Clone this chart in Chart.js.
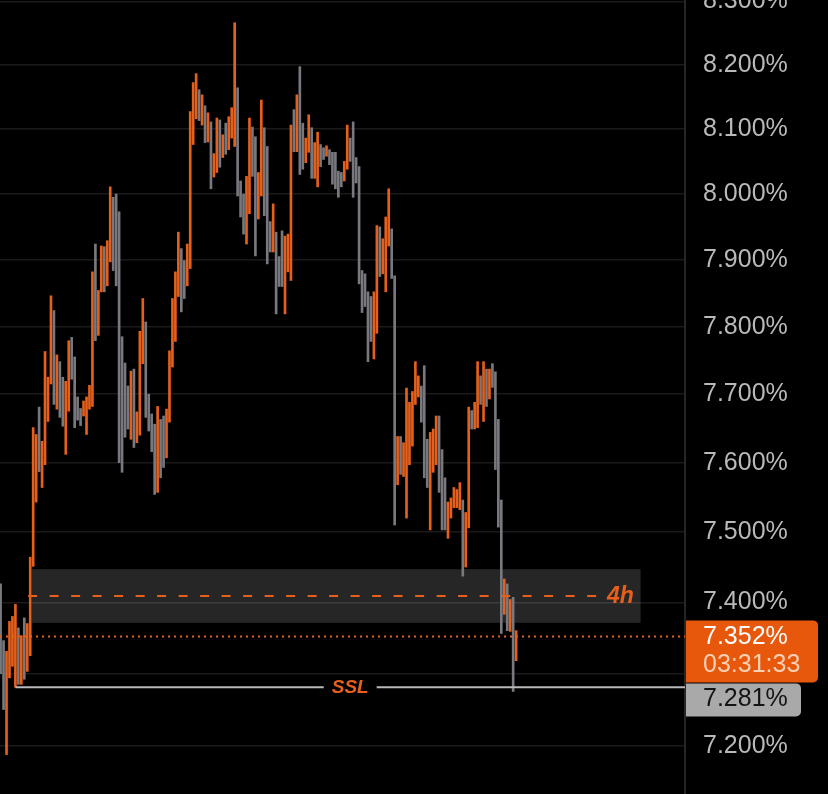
<!DOCTYPE html>
<html>
<head>
<meta charset="utf-8">
<script src="https://cdn.jsdelivr.net/npm/chart.js@4.4.1/dist/chart.umd.min.js"></script>
<style>
  html, body { margin: 0; padding: 0; background: #000; }
</style>
</head>
<body>
<canvas id="myChart" width="828" height="794"></canvas>
<script>
// Bar highs / lows in yield %, oldest first
const highs = [
  7.426, 7.346, 7.331, 7.373, 7.380, 7.397, 7.364, 7.353, 7.378, 7.370,
  7.464, 7.651, 7.641, 7.681, 7.631, 7.763, 7.725, 7.846, 7.824, 7.758,
  7.748, 7.725, 7.719, 7.779, 7.784, 7.755, 7.696, 7.679, 7.690, 7.696,
  7.713, 7.882, 7.924, 7.854, 7.921, 7.920, 7.929, 8.011, 7.995, 8.000,
  7.973, 7.785, 7.746, 7.712, 7.734, 7.737, 7.674, 7.793, 7.842, 7.807,
  7.700, 7.671, 7.656, 7.682, 7.663, 7.668, 7.678, 7.764, 7.842, 7.882,
  7.942, 7.917, 7.899, 7.924, 8.127, 8.172, 8.186, 8.161, 8.153, 8.136,
  8.125, 8.111, 8.062, 8.117, 8.114, 8.091, 8.109, 8.119, 8.133, 8.266,
  8.164, 8.020, 8.000, 8.027, 8.117, 8.103, 8.088, 8.033, 8.145, 8.102,
  8.073, 7.958, 7.985, 7.942, 7.905, 7.944, 7.936, 7.939, 8.106, 8.130,
  8.153, 8.197, 8.109, 8.086, 8.122, 8.102, 8.079, 8.095, 8.076, 8.071,
  8.074, 8.068, 8.064, 8.064, 8.035, 8.033, 8.050, 8.106, 8.086, 8.111,
  8.056, 8.042, 7.884, 7.879, 7.852, 7.845, 7.852, 7.952, 7.950, 7.932,
  7.965, 8.008, 7.947, 7.876, 7.638, 7.638, 7.629, 7.709, 7.688, 7.704,
  7.748, 7.727, 7.712, 7.742, 7.634, 7.644, 7.649, 7.668, 7.668, 7.619,
  7.578, 7.543, 7.549, 7.564, 7.561, 7.571, 7.546, 7.528, 7.681, 7.676,
  7.688, 7.748, 7.727, 7.748, 7.737, 7.737, 7.745, 7.733, 7.663, 7.546,
  7.433, 7.426, 7.404, 7.407, 7.360
];
const lows = [
  7.300, 7.250, 7.188, 7.294, 7.310, 7.281, 7.285, 7.285, 7.292, 7.303,
  7.325, 7.451, 7.543, 7.587, 7.564, 7.597, 7.660, 7.715, 7.685, 7.678,
  7.666, 7.653, 7.612, 7.675, 7.722, 7.651, 7.662, 7.654, 7.668, 7.641,
  7.678, 7.682, 7.779, 7.787, 7.852, 7.852, 7.861, 7.897, 7.884, 7.861,
  7.600, 7.586, 7.637, 7.649, 7.634, 7.622, 7.629, 7.640, 7.745, 7.666,
  7.646, 7.616, 7.554, 7.557, 7.578, 7.593, 7.607, 7.659, 7.740, 7.778,
  7.845, 7.822, 7.842, 7.861, 7.887, 8.076, 8.116, 8.113, 8.106, 8.079,
  8.080, 8.008, 8.026, 8.033, 8.041, 8.056, 8.061, 8.068, 8.086, 8.073,
  7.997, 7.965, 7.939, 7.924, 7.970, 8.027, 7.906, 7.962, 7.997, 7.967,
  7.894, 7.912, 7.912, 7.819, 7.860, 7.860, 7.819, 7.882, 7.869, 8.065,
  8.065, 8.030, 8.038, 8.048, 8.064, 8.024, 8.024, 8.011, 8.042, 8.053,
  8.058, 8.045, 8.015, 8.008, 7.995, 8.011, 8.020, 8.038, 8.050, 7.995,
  8.017, 7.864, 7.821, 7.830, 7.748, 7.778, 7.752, 7.790, 7.875, 7.879,
  7.852, 7.921, 7.872, 7.510, 7.568, 7.583, 7.580, 7.520, 7.597, 7.624,
  7.685, 7.696, 7.659, 7.578, 7.564, 7.503, 7.586, 7.597, 7.557, 7.503,
  7.503, 7.491, 7.520, 7.535, 7.535, 7.532, 7.437, 7.450, 7.506, 7.649,
  7.649, 7.651, 7.685, 7.660, 7.682, 7.693, 7.710, 7.590, 7.507, 7.356,
  7.383, 7.360, 7.359, 7.275, 7.318
];
// 1 = up bar, -1 = down bar
const dirs = [
  -1, -1, 1, 1, 1, 1, -1, 1, -1, 1,
  1, 1, 1, -1, 1, 1, 1, 1, -1, 1,
  -1, -1, 1, 1, -1, -1, -1, -1, 1, 1,
  1, 1, -1, 1, 1, -1, 1, 1, -1, -1,
  -1, -1, -1, -1, 1, -1, 1, 1, 1, -1,
  -1, -1, -1, 1, -1, -1, 1, 1, 1, 1,
  1, -1, -1, 1, 1, 1, 1, -1, 1, -1,
  1, -1, 1, 1, -1, 1, -1, 1, 1, 1,
  -1, -1, -1, 1, 1, -1, -1, 1, 1, -1,
  -1, -1, 1, -1, -1, -1, 1, 1, 1, -1,
  1, -1, -1, 1, 1, -1, 1, 1, -1, -1,
  1, -1, -1, -1, -1, -1, 1, 1, -1, -1,
  -1, -1, -1, -1, -1, -1, 1, 1, -1, 1,
  1, 1, -1, -1, 1, -1, 1, 1, 1, 1,
  1, 1, -1, -1, -1, 1, 1, 1, -1, -1,
  -1, 1, 1, 1, 1, 1, -1, 1, 1, -1,
  1, 1, -1, 1, -1, 1, -1, -1, -1, -1,
  1, -1, 1, -1, 1
];

const yTicks = [7.2, 7.3, 7.4, 7.5, 7.6, 7.7, 7.8, 7.9, 8.0, 8.1, 8.2, 8.3];
const yMin = 7.134, yMax = 8.302;

// zone, levels and price tags
const zoneTop = 7.447, zoneBottom = 7.371, zoneFrom = 10.6, zoneTo = 216;
const level4h = 7.409, level4hFrom = 9.3, level4hTo = 201.3, label4h = '4h';
const sslLevel = 7.281, sslFrom = 5, sslLabel = 'SSL';
const lastPrice = 7.352, countdown = '03:31:33';

const UP = '#e6601c';
const DOWN = '#78787f';
const FONT = "'Liberation Sans', Arial, sans-serif";

Chart.defaults.font.family = FONT;

const overlay = {
  id: 'overlay',
  beforeDraw(chart) {
    const { ctx, scales: { x, y } } = chart;
    ctx.save();
    ctx.fillStyle = '#000';
    ctx.fillRect(0, 0, chart.width, chart.height);
    const x0 = x.getPixelForValue(zoneFrom), x1 = x.getPixelForValue(zoneTo);
    const y0 = y.getPixelForValue(zoneTop), y1 = y.getPixelForValue(zoneBottom);
    ctx.fillStyle = '#262626';
    ctx.fillRect(x0, y0, x1 - x0, y1 - y0);
    ctx.restore();
  },
  afterDatasetsDraw(chart) {
    const { ctx, chartArea: a, scales: { x, y } } = chart;
    ctx.save();
    // 4h level
    const y4 = y.getPixelForValue(level4h);
    ctx.strokeStyle = UP;
    ctx.lineWidth = 2;
    ctx.setLineDash([9, 12.5]);
    ctx.beginPath();
    ctx.moveTo(x.getPixelForValue(level4hFrom), y4);
    ctx.lineTo(x.getPixelForValue(level4hTo), y4);
    ctx.stroke();
    ctx.setLineDash([]);
    ctx.fillStyle = UP;
    ctx.font = 'italic bold 23px ' + FONT;
    ctx.textAlign = 'left';
    ctx.textBaseline = 'middle';
    ctx.fillText(label4h, x.getPixelForValue(level4hTo) + 10, y4 + 1);

    // last price dotted line
    const yp = y.getPixelForValue(lastPrice);
    ctx.setLineDash([2, 4]);
    ctx.beginPath();
    ctx.moveTo(a.left, yp);
    ctx.lineTo(a.right, yp);
    ctx.stroke();
    ctx.setLineDash([]);

    // SSL line with label gap
    const ys = y.getPixelForValue(sslLevel);
    const xs0 = x.getPixelForValue(sslFrom), xs1 = a.right;
    const mid = (xs0 + xs1) / 2;
    ctx.font = 'italic bold 19px ' + FONT;
    const tw = ctx.measureText(sslLabel).width;
    ctx.strokeStyle = '#b9b9b9';
    ctx.lineWidth = 2;
    ctx.beginPath();
    ctx.moveTo(xs0, ys);
    ctx.lineTo(mid - tw / 2 - 8, ys);
    ctx.moveTo(mid + tw / 2 + 8, ys);
    ctx.lineTo(xs1, ys);
    ctx.stroke();
    ctx.textAlign = 'center';
    ctx.fillStyle = UP;
    ctx.fillText(sslLabel, mid, ys + 1);
    ctx.restore();
  },
  afterDraw(chart) {
    const { ctx, chartArea: a, scales: { y } } = chart;
    ctx.save();
    const yp = y.getPixelForValue(lastPrice);
    const bx = a.right + 1;
    const top = yp - 16;
    ctx.fillStyle = '#e8580c';
    ctx.beginPath();
    ctx.roundRect(bx, top, 132, 62, [0, 5, 5, 0]);
    ctx.fill();
    ctx.fillStyle = '#a9a9a9';
    ctx.beginPath();
    ctx.roundRect(bx, top + 63, 115, 33, [0, 5, 5, 0]);
    ctx.fill();
    ctx.font = '25px ' + FONT;
    ctx.textAlign = 'left';
    ctx.textBaseline = 'middle';
    ctx.fillStyle = '#ffffff';
    ctx.fillText(lastPrice.toFixed(3) + '%', a.right + 18, top + 17);
    ctx.fillStyle = '#fcd0b4';
    ctx.fillText(countdown, a.right + 18, top + 45);
    ctx.fillStyle = '#141414';
    ctx.fillText(sslLevel.toFixed(3) + '%', a.right + 18, top + 79);
    ctx.restore();
  }
};

const ctx = document.getElementById('myChart').getContext('2d');
const myChart = new Chart(ctx, {
  type: 'bar',
  data: {
    datasets: [{
      data: highs.map((h, i) => ({ x: i, y: [lows[i], h] })),
      backgroundColor: dirs.map(d => d > 0 ? UP : DOWN),
      borderWidth: 0,
      barThickness: 2
    }]
  },
  options: {
    responsive: false,
    animation: false,
    layout: { padding: 0 },
    plugins: { legend: { display: false }, tooltip: { enabled: false } },
    scales: {
      x: {
        type: 'linear',
        display: false,
        offset: false,
        min: -0.2,
        max: 231
      },
      y: {
        type: 'logarithmic',
        position: 'right',
        bounds: 'data',
        min: yMin,
        max: yMax,
        afterBuildTicks: s => {
          s.min = yMin;
          s.max = yMax;
          s.ticks = yTicks.map(v => ({ value: v }));
        },
        afterFit: s => { s.width = 143; s.paddingTop = 0; s.paddingBottom = 0; },
        grid: { color: 'rgba(255,255,255,0.1)', lineWidth: 1.5, drawTicks: false },
        border: { color: '#262626', width: 2 },
        ticks: {
          color: '#b9b9b9',
          padding: 18,
          autoSkip: false,
          font: { size: 25 },
          callback: v => v.toFixed(3) + '%'
        }
      }
    }
  },
  plugins: [overlay]
});
</script>
</body>
</html>
